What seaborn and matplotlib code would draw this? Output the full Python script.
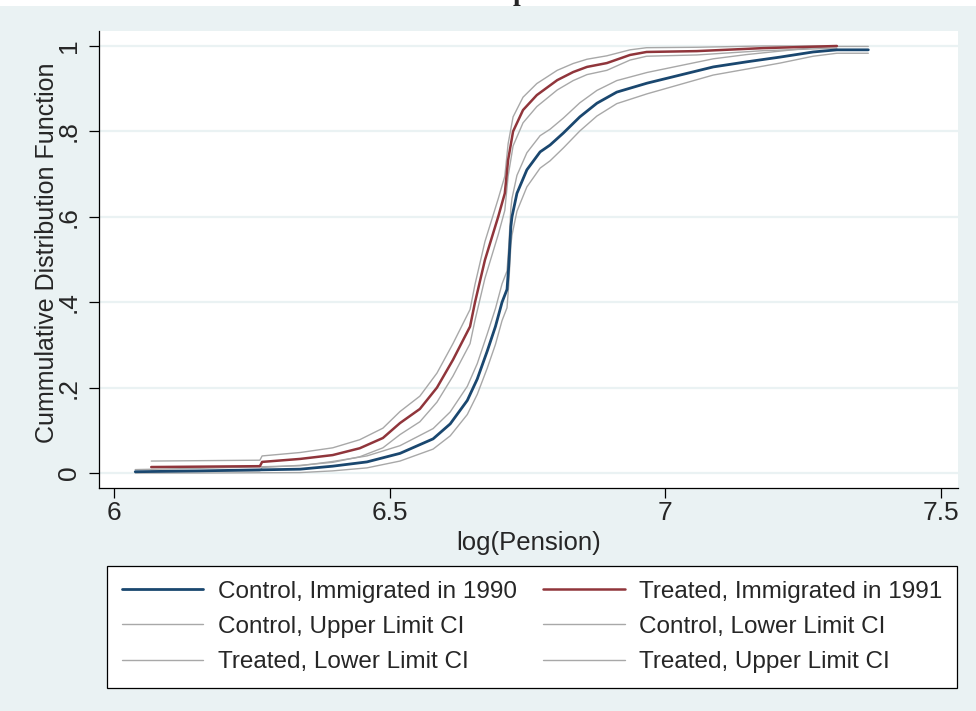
#!/usr/bin/env python3

# Import libraries
import pandas as pd
import matplotlib as mpl
import matplotlib.pyplot as plt
import seaborn as sns

control_x = [6.039, 6.156, 6.338, 6.397, 6.459, 6.519, 6.579, 6.610, 6.641, 6.659,
             6.677, 6.692, 6.704, 6.713, 6.716, 6.720, 6.722, 6.731, 6.749, 6.773,
             6.791, 6.815, 6.845, 6.876, 6.912, 6.967, 7.027, 7.087, 7.148, 7.208,
             7.268, 7.311, 7.368]
control_cdf = [0.003, 0.005, 0.009, 0.016, 0.026, 0.046, 0.080, 0.115, 0.170, 0.220,
               0.285, 0.343, 0.400, 0.430, 0.483, 0.577, 0.600, 0.655, 0.710, 0.752,
               0.768, 0.796, 0.834, 0.866, 0.892, 0.913, 0.932, 0.951, 0.963, 0.974,
               0.986, 0.991, 0.991]
control_upper = [0.008, 0.011, 0.017, 0.027, 0.040, 0.064, 0.104, 0.143, 0.203, 0.256,
                 0.325, 0.385, 0.443, 0.473, 0.527, 0.620, 0.643, 0.697, 0.750, 0.790,
                 0.805, 0.831, 0.867, 0.896, 0.919, 0.938, 0.954, 0.970, 0.980, 0.988,
                 0.996, 0.999, 0.999]
control_lower = [0.000, 0.000, 0.001, 0.005, 0.012, 0.028, 0.056, 0.087, 0.137, 0.184,
                 0.245, 0.301, 0.357, 0.387, 0.439, 0.534, 0.557, 0.613, 0.670, 0.714,
                 0.731, 0.761, 0.801, 0.836, 0.865, 0.888, 0.910, 0.932, 0.946, 0.960,
                 0.976, 0.983, 0.983]

treated_x = [6.068, 6.265, 6.269, 6.338, 6.397, 6.446, 6.488, 6.519, 6.555, 6.586,
             6.615, 6.646, 6.655, 6.673, 6.697, 6.709, 6.715, 6.724, 6.742, 6.767,
             6.804, 6.833, 6.858, 6.894, 6.936, 6.966, 7.057, 7.177, 7.311]
treated_cdf = [0.014, 0.016, 0.026, 0.033, 0.042, 0.058, 0.082, 0.117, 0.150, 0.200,
               0.265, 0.343, 0.400, 0.499, 0.600, 0.655, 0.733, 0.800, 0.850, 0.885,
               0.920, 0.939, 0.951, 0.960, 0.979, 0.986, 0.988, 0.995, 1.000]
treated_upper = [0.028, 0.030, 0.040, 0.048, 0.059, 0.078, 0.105, 0.144, 0.180, 0.234,
                 0.303, 0.383, 0.442, 0.542, 0.642, 0.695, 0.771, 0.834, 0.880, 0.912,
                 0.943, 0.959, 0.969, 0.977, 0.991, 0.996, 0.997, 1.000, 1.000]
treated_lower = [0.004, 0.005, 0.013, 0.018, 0.025, 0.038, 0.059, 0.090, 0.120, 0.166,
                 0.227, 0.303, 0.358, 0.456, 0.558, 0.615, 0.695, 0.766, 0.820, 0.858,
                 0.897, 0.919, 0.933, 0.943, 0.967, 0.976, 0.979, 0.989, 0.995]

y_ticks = [0, 0.2, 0.4, 0.6, 0.8, 1]
y_tick_labels = ["0", ".2", ".4", ".6", ".8", "1"]
x_ticks = [6, 6.5, 7, 7.5]
x_tick_labels = ["6", "6.5", "7", "7.5"]

BG = "#EAF2F3"
BLUE = "#1A476F"
RED = "#90353B"
GREY = "#A8A8A8"


def plot():
    sns.set_style("white")
    plt.rcParams["font.family"] = ["Liberation Sans", "DejaVu Sans"]
    fig = plt.figure(figsize=(9.76, 7.11), dpi=100, facecolor="white")
    # graph region (top strip stays white, as in the cropped export)
    fig.patches.append(mpl.patches.Rectangle((0, 0), 1, 1 - 6 / 711, transform=fig.transFigure,
                                             facecolor=BG, edgecolor="none", zorder=-5))
    fig.text(0.533, 1.0, "p", ha="center", va="baseline", fontsize=20,
             family="Liberation Serif", weight="bold")

    ax = fig.add_axes([99 / 976, 1 - 488 / 711, (958 - 99) / 976, (488 - 31) / 711])
    ax.set_zorder(1)
    ax.set_facecolor("white")

    series = [
        ("Control, Upper Limit CI", control_x, control_upper, GREY, 1.0),
        ("Control, Lower Limit CI", control_x, control_lower, GREY, 1.0),
        ("Treated, Lower Limit CI", treated_x, treated_lower, GREY, 1.0),
        ("Treated, Upper Limit CI", treated_x, treated_upper, GREY, 1.0),
        ("Control, Immigrated in 1990", control_x, control_cdf, BLUE, 2.0),
        ("Treated, Immigrated in 1991", treated_x, treated_cdf, RED, 1.8),
    ]
    for name, xs, ys, col, lw in series:
        df = pd.DataFrame({"x": xs, "y": ys})
        sns.lineplot(data=df, x="x", y="y", ax=ax, color=col, linewidth=lw,
                     label=name, sort=False, estimator=None, zorder=3)

    ax.set_xlim(5.9733, 7.5306)
    ax.set_ylim(-0.0351, 1.0351)
    ax.set_xticks(x_ticks)
    ax.set_xticklabels(x_tick_labels)
    ax.set_yticks(y_ticks)
    ax.set_yticklabels(y_tick_labels, rotation=90, va="center")
    ax.yaxis.grid(True, color=BG, linewidth=1.6)
    ax.xaxis.grid(False)
    ax.set_axisbelow(True)
    for s in ["top", "right"]:
        ax.spines[s].set_visible(False)
    for s in ["left", "bottom"]:
        ax.spines[s].set_color("black")
        ax.spines[s].set_linewidth(0.9)
    ax.tick_params(axis="both", which="major", labelsize=19, length=7, width=0.9,
                   color="black", direction="out", left=True, bottom=True)
    ax.tick_params(axis="y", pad=6)
    ax.tick_params(axis="x", pad=2)
    ax.set_xlabel("log(Pension)", fontsize=18.5, labelpad=5)
    ax.set_ylabel("Cummulative Distribution Function", fontsize=18)
    ax.yaxis.set_label_coords(-0.047, 0.514)

    # legend, filled column-wise
    handles, labels = ax.get_legend_handles_labels()
    lookup = dict(zip(labels, handles))
    order = ["Control, Immigrated in 1990", "Control, Upper Limit CI", "Treated, Lower Limit CI",
             "Treated, Immigrated in 1991", "Control, Lower Limit CI", "Treated, Upper Limit CI"]
    ax.get_legend().remove()
    leg = fig.legend([lookup[k] for k in order], order, ncol=2, loc="upper left",
                     bbox_to_anchor=(107 / 976, 1 - 566 / 711),
                     bbox_transform=fig.transFigure, fontsize=17.5,
                     frameon=True, fancybox=False, framealpha=1, edgecolor="black",
                     handlelength=3.35, handletextpad=0.6, columnspacing=1.1,
                     labelspacing=0.55, borderpad=0.6, borderaxespad=0)
    leg.get_frame().set_linewidth(0.9)
    return fig


def main():
    fig = plot()
    fig.savefig("out.png", dpi=100)
    print("Saved out.png")


if __name__ == '__main__':
    main()
